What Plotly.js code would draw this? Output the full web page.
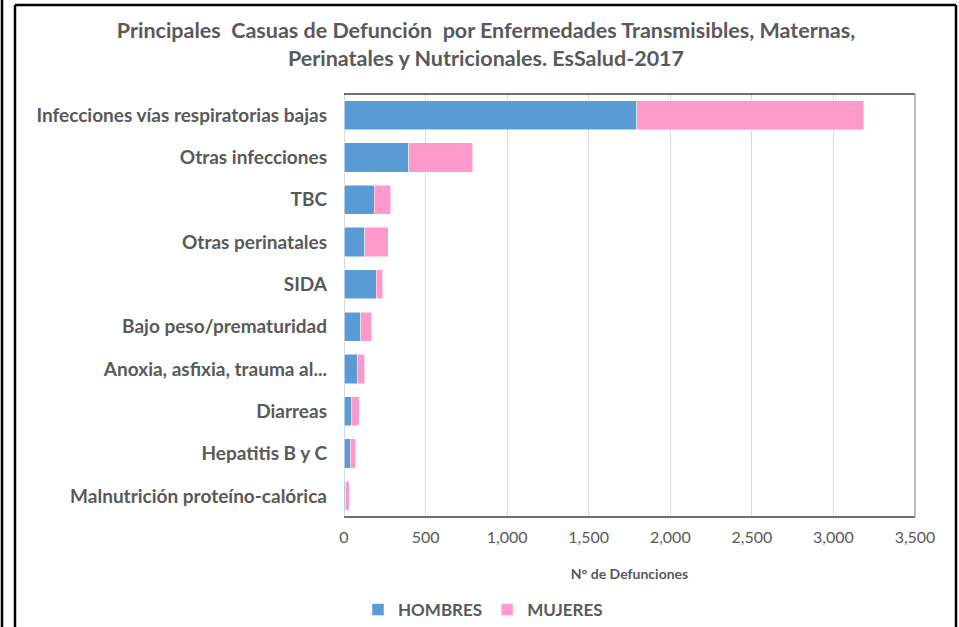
<!DOCTYPE html>
<html>
<head>
<meta charset="utf-8">
<script src="https://cdn.plot.ly/plotly-3.0.1.min.js"></script>
<style>
  html, body { margin: 0; padding: 0; background: #ffffff; }
  #chart { width: 959px; height: 627px; }
</style>
</head>
<body>
<div id="chart"></div>
<script>
const categories = [
  "Infecciones vías respiratorias bajas",
  "Otras infecciones",
  "TBC",
  "Otras perinatales",
  "SIDA",
  "Bajo peso/prematuridad",
  "Anoxia, asfixia, trauma al...",
  "Diarreas",
  "Hepatitis B y C",
  "Malnutrición proteíno-calórica"
];
const hombres = [1795, 398, 184, 128, 198, 104, 81, 45, 39, 12];
const mujeres = [1390, 391, 104, 143, 38, 65, 47, 49, 34, 19];
const xTickVals = [0, 500, 1000, 1500, 2000, 2500, 3000, 3500];
const xTickText = ["0", "500", "1,000", "1,500", "2,000", "2,500", "3,000", "3,500"];

const FONT = "Lato, 'Open Sans', sans-serif";
const GRAY = "#595959";

const traces = [
  {
    type: "bar", orientation: "h", name: "HOMBRES",
    y: categories, x: hombres,
    marker: { color: "#5B9BD5", line: { color: "#ffffff", width: 0.5 } },
    hoverinfo: "skip"
  },
  {
    type: "bar", orientation: "h", name: "MUJERES",
    y: categories, x: mujeres,
    marker: { color: "#FF99CC", line: { color: "#ffffff", width: 0.5 } },
    hoverinfo: "skip"
  }
];

const PX = (px) => (px - 344) / 571;
const PY = (py) => (517 - py) / 423;

const layout = {
  width: 959, height: 627,
  margin: { l: 344, r: 44, t: 94, b: 110, autoexpand: false },
  paper_bgcolor: "#ffffff", plot_bgcolor: "#ffffff",
  barmode: "stack", bargap: 0.31,
  showlegend: true,
  font: { family: FONT, color: GRAY },
  title: {
    text: "<b>Principales  Casuas de Defunción  por Enfermedades Transmisibles, Maternas,<br>Perinatales y Nutricionales. EsSalud-2017</b>",
    font: { family: FONT, size: 21.5, color: GRAY },
    x: 486 / 959, xref: "container", xanchor: "center",
    y: 1 - 38 / 627, yref: "container", yanchor: "top"
  },
  xaxis: {
    range: [0, 3500], tickvals: xTickVals, ticktext: xTickText,
    showgrid: true, gridcolor: "#d9d9d9", gridwidth: 1,
    zeroline: true, zerolinecolor: "#d9d9d9", zerolinewidth: 1,
    showline: false, ticks: "", automargin: false,
    tickfont: { family: FONT, size: 16, color: GRAY },
    ticklabelstandoff: 9,
    title: { text: "<b>N° de Defunciones</b>", font: { family: FONT, size: 14, color: GRAY }, standoff: 24 },
    fixedrange: true
  },
  yaxis: {
    autorange: "reversed", type: "category",
    showgrid: false, zeroline: false, showline: false, ticks: "", automargin: false,
    tickfont: { family: FONT, size: 19, color: GRAY, weight: "bold" },
    ticklabelstandoff: 16,
    fixedrange: true
  },
  legend: {
    orientation: "h", x: PX(358), xanchor: "left", y: PY(610), yanchor: "middle",
    font: { family: FONT, size: 17, color: GRAY, weight: "bold" },
    traceorder: "normal", itemwidth: 30
  },
  shapes: [
    // plot area border
    { type: "line", xref: "paper", yref: "paper", x0: 0, x1: 1, y0: 1, y1: 1, line: { color: "#404040", width: 1.5 } },
    { type: "line", xref: "paper", yref: "paper", x0: 0, x1: 1, y0: 0, y1: 0, line: { color: "#404040", width: 1.5 } },
    { type: "line", xref: "paper", yref: "paper", x0: 1, x1: 1, y0: 0, y1: 1, line: { color: "#a6a6a6", width: 1.5 } },
    // outer frame
    { type: "line", xref: "paper", yref: "paper", x0: PX(2), x1: PX(2), y0: PY(-5), y1: PY(700), line: { color: "#000000", width: 2.5 } },
    { type: "line", xref: "paper", yref: "paper", x0: PX(15), x1: PX(15), y0: PY(5), y1: PY(700), line: { color: "#000000", width: 2.5 } },
    { type: "line", xref: "paper", yref: "paper", x0: PX(15), x1: PX(956), y0: PY(5), y1: PY(5), line: { color: "#000000", width: 2.5 } },
    { type: "line", xref: "paper", yref: "paper", x0: PX(956), x1: PX(956), y0: PY(5), y1: PY(700), line: { color: "#000000", width: 2.5 } }
  ]
};

Plotly.newPlot("chart", traces, layout, { displayModeBar: false, staticPlot: true });
</script>
</body>
</html>
